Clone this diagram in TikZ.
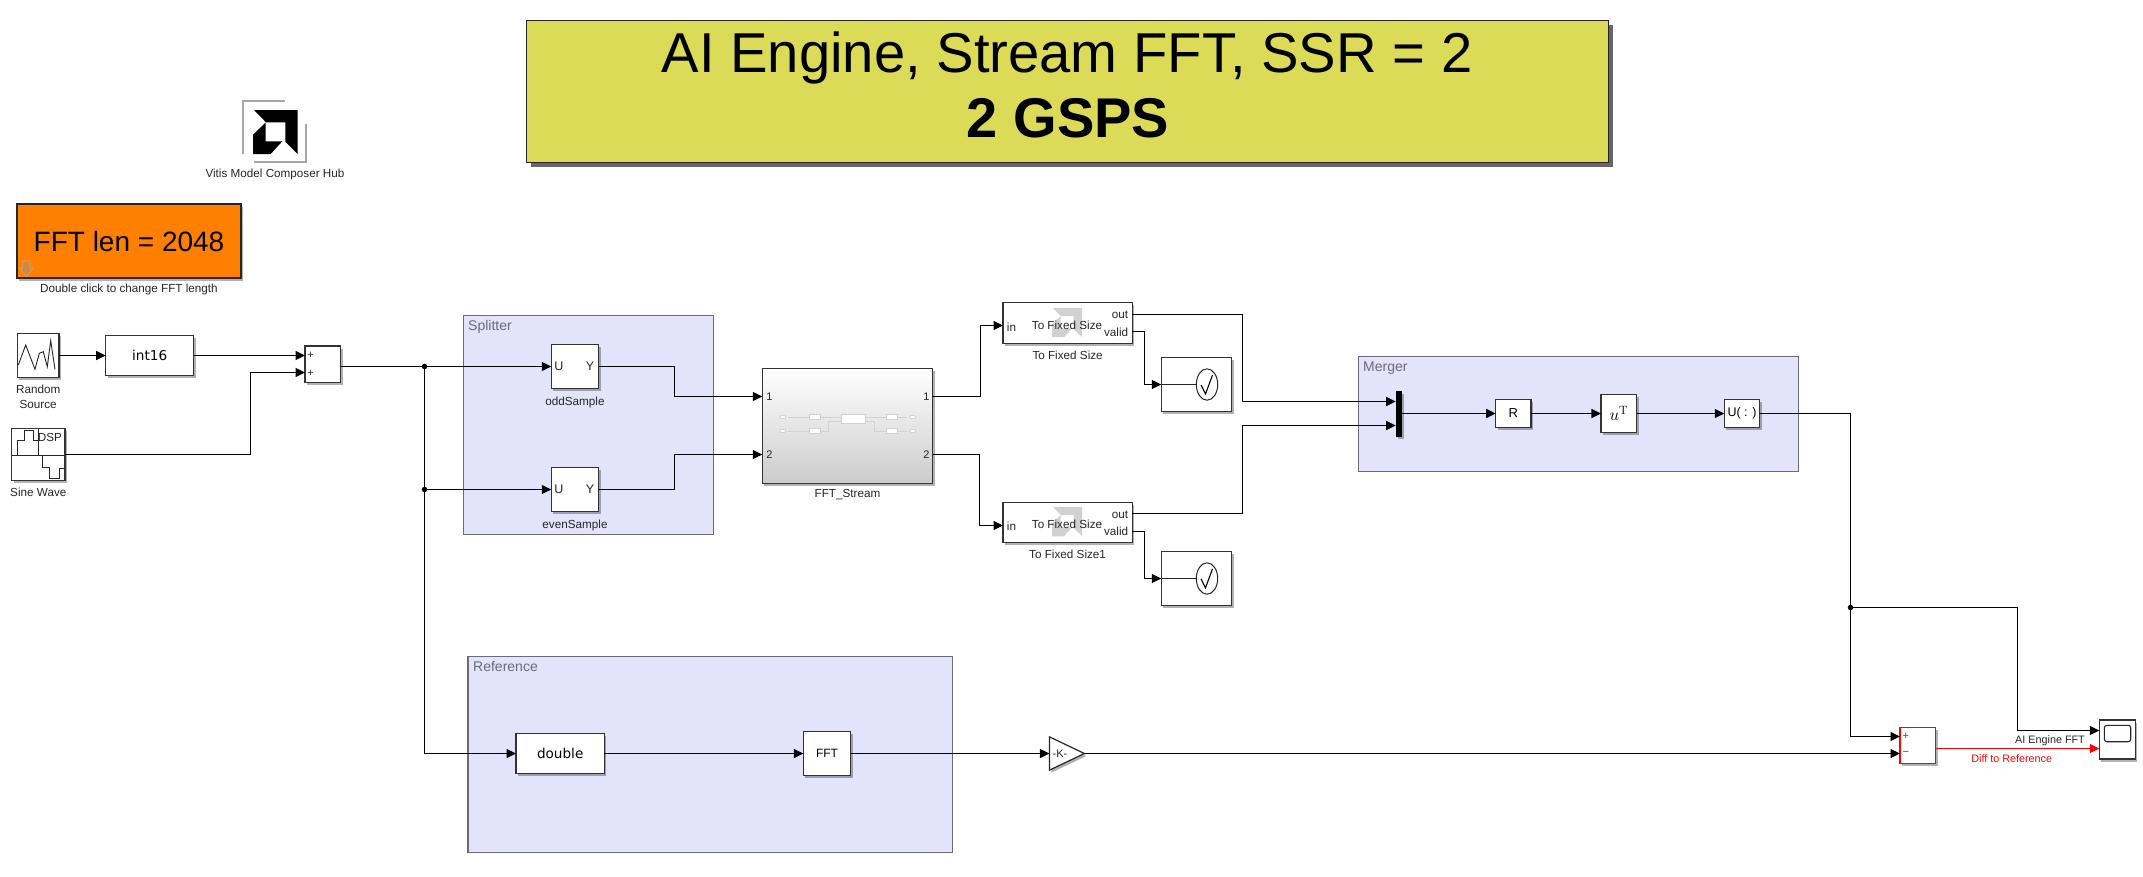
\documentclass[tikz,border=0pt]{standalone}
\usepackage[no-math]{fontspec}
\setmainfont{Liberation Sans}
\newfontfamily\convfont{DejaVu Sans}
\usetikzlibrary{arrows.meta,shadows,shapes.geometric}

\definecolor{titlefill}{HTML}{DBDB58}
\definecolor{lenfill}{HTML}{FF7F00}
\definecolor{areafill}{HTML}{E3E3FC}
\definecolor{areaedge}{HTML}{6A6A7A}
\definecolor{hintfill}{HTML}{C98A45}
\definecolor{hintedge}{HTML}{E09A50}

\tikzset{
  softshadow/.style={drop shadow={shadow xshift=2pt,shadow yshift=-2.5pt,opacity=.3,fill=black}},
  block/.style={draw=black!80,line width=1.2pt,fill=white,inner sep=0pt,outer sep=0pt,softshadow},
  area/.style={draw=areaedge,line width=1.2pt,fill=areafill,inner sep=0pt,outer sep=0pt},
  arealabel/.style={text=areaedge,font=\fontsize{14}{16}\selectfont,anchor=west,inner sep=0pt},
  caption/.style={font=\fontsize{11.7}{14}\selectfont,text=black!85,inner sep=0pt},
  signal/.style={font=\fontsize{10.8}{13}\selectfont,text=black!85,inner sep=0pt},
  port/.style={font=\fontsize{11.7}{14}\selectfont,text=black!85,inner sep=0pt},
  smallport/.style={font=\fontsize{11}{14}\selectfont,text=black!85,inner sep=0pt},
  convtext/.style={font=\convfont\fontsize{13.6}{16}\selectfont,inner sep=0pt},
  junction/.style={circle,fill=black,inner sep=0pt,minimum size=5.5pt},
  wire/.style={line width=1.3pt,->},
  thumb/.style={draw=black!18,line width=.8pt},
  amdmark/.pic={
    \fill (-21.3,-22) -- (22.4,-22) -- (22.4,22) -- (10,9.7) -- (10,-9.7) -- (-9.3,-9.7) -- cycle;
    \fill (-22.3,22) -- (-22.3,2.7) -- (-9.6,-9.5) -- (-9.6,9.3) -- (7,9.3) -- (-4.6,22) -- cycle;
  }
}

\begin{document}
\begin{tikzpicture}[x=1pt,y=-1pt,>={Triangle[length=9.5pt,width=9pt]}]
        \useasboundingbox (0,0) rectangle (2143,876);

        % Areas
        \node[area,minimum width=250pt,minimum height=219.4pt] (splitter) at (588.3,425) {};
        \node[area,minimum width=439.6pt,minimum height=114.6pt] (merger) at (1578.5,414) {};
        \node[area,minimum width=484.7pt,minimum height=195.6pt] (reference) at (710.3,754.5) {};
        \node[arealabel] (splitterlabel) at (468,327) {Splitter};
        \node[arealabel] (mergerlabel) at (1363,368) {Merger};
        \node[arealabel] (referencelabel) at (473,666) {Reference};

        % Banner and mask parts
        \node[draw=black!85,line width=1.2pt,fill=titlefill,inner sep=0pt,minimum width=1082pt,minimum height=142pt,
          drop shadow={shadow xshift=4pt,shadow yshift=-4pt,opacity=.6,fill=black}] (banner) at (1067.5,91.7) {};
        \node[font=\fontsize{56.2}{64}\selectfont,inner sep=0pt] (bannertop) at (1067,57.5) {AI Engine, Stream FFT, SSR = 2};
        \node[font=\fontsize{56}{64}\selectfont\bfseries,inner sep=0pt] (bannerbot) at (1068,118) {2 GSPS};

        \node[draw=black!85,line width=1.2pt,fill=lenfill,inner sep=0pt,minimum width=224pt,minimum height=74pt,softshadow] (fftlen) at (129,241) {};
        \node[font=\fontsize{28}{32}\selectfont,inner sep=0pt] (fftlentext) at (129,241) {FFT len = 2048};
        \filldraw[fill=hintfill,draw=hintedge,line width=1pt] (22.7,261) -- (30,261) -- (30,268) -- (33.3,268) -- (26.3,276.5) -- (19.7,268) -- (22.7,268) -- cycle;
        \node[caption,below of=fftlen,node distance=48pt] (fftlenlabel) {Double click to change FFT length};

        \draw[black!35,line width=1.2pt] (285,101) -- (243,101) -- (243,154);
        \draw[black!35,line width=1.2pt] (306,124) -- (306,162) -- (254,162);
        \pic[black] at (275.3,132) {amdmark};
        \node[caption] (hublabel) at (275,174) {Vitis Model Composer Hub};

        % Sources
        \node[block,minimum width=41.7pt,minimum height=44.3pt] (random) at (38.2,355.5) {};
        \draw[line width=.9pt,black!85] (18.3,365) -- (25.7,345) -- (35,369.3) -- (39.3,353.3) -- (43.3,351.7) -- (47.3,366.7) -- (50.7,340.7) -- (55,369.3);
        \node[caption,align=center,below of=random,node distance=41pt] (randomlabel) {Random\\[1pt]Source};

        \node[block,minimum width=53.3pt,minimum height=51.7pt] (sine) at (38.3,454.5) {};
        \draw[line width=.9pt,black!85] (11.7,455) -- (65,455) (38.3,428.5) -- (38.3,455);
        \draw[line width=.9pt,black!85] (17.3,455) -- (17.3,440.7) -- (24,440.7) -- (24,430.7) -- (33.3,430.7) -- (33.3,440.7) -- (38.3,440.7);
        \draw[line width=.9pt,black!85] (42.7,455) -- (42.7,467.3) -- (49.3,467.3) -- (49.3,478.3) -- (59.3,478.3) -- (59.3,468.3) -- (64,468.3);
        \node[port] (sinedsp) at (50,437) {DSP};
        \node[caption,below of=sine,node distance=37.7pt] (sinelabel) {Sine Wave};

        \node[block,minimum width=88pt,minimum height=39.6pt,convtext] (toint) at (149.7,355.5) {int16};

        \node[block,minimum width=35.7pt,minimum height=36.3pt] (sum) at (322.8,364.2) {};
        \node[smallport] (sumplusa) at (310.7,355.3) {+};
        \node[smallport] (sumplusb) at (310.7,373) {+};
        \coordinate (sumina) at (305,355.5);
        \coordinate (suminb) at (305,372.5);
        \coordinate (sumout) at (340.7,366.5);

        \node[junction] (tapodd) at (424.5,366.5) {};
        \node[junction] (tapeven) at (424.5,489.5) {};

        % Splitter
        \node[block,minimum width=47.4pt,minimum height=44.6pt] (odd) at (575,366.5) {};
        \node[port,font=\fontsize{12.5}{14}\selectfont] (oddu) at (559,366.5) {U};
        \node[port,font=\fontsize{12.5}{14}\selectfont] (oddy) at (590,366.5) {Y};
        \node[caption,below of=odd,node distance=35.5pt] (oddlabel) {oddSample};

        \node[block,minimum width=47.4pt,minimum height=44.6pt] (even) at (575,489.5) {};
        \node[port,font=\fontsize{12.5}{14}\selectfont] (evenu) at (559,489.5) {U};
        \node[port,font=\fontsize{12.5}{14}\selectfont] (eveny) at (590,489.5) {Y};
        \node[caption,below of=even,node distance=35.5pt] (evenlabel) {evenSample};

        % FFT block
        \node[block,minimum width=170.4pt,minimum height=115pt,top color=white,middle color=white!96!black,bottom color=black!20] (stream) at (847.5,425.8) {};
        \draw[thumb] (788,417) -- (841.7,417) (866,417) -- (907,417);
        \draw[thumb] (788,431) -- (828.3,431) -- (828.3,421.3) -- (841.7,421.3);
        \draw[thumb] (866,421.3) -- (874.3,421.3) -- (874.3,431) -- (907,431);
        \filldraw[thumb,fill=white] (809.3,414.8) rectangle (820.7,419.2) (809.3,428.8) rectangle (820.7,433.2);
        \filldraw[thumb,fill=white] (886.3,414.8) rectangle (897.7,419.2) (886.3,428.8) rectangle (897.7,433.2);
        \filldraw[thumb,fill=white] (841.7,414.7) rectangle (865.7,423.3);
        \filldraw[thumb,fill=white,rounded corners=1pt] (780,415.5) rectangle (785.5,418.5) (780,429.5) rectangle (785.5,432.5);
        \filldraw[thumb,fill=white,rounded corners=1pt] (910,415.5) rectangle (915.5,418.5) (910,429.5) rectangle (915.5,432.5);
        \node[smallport] (streamia) at (769.3,396.5) {1};
        \node[smallport] (streamib) at (769.3,455) {2};
        \node[smallport] (streamoa) at (926.3,396.5) {1};
        \node[smallport] (streamob) at (926.3,455) {2};
        \coordinate (streamina) at (762.3,396.5);
        \coordinate (streaminb) at (762.3,454.5);
        \coordinate (streamouta) at (932.7,396.5);
        \coordinate (streamoutb) at (932.7,454.5);
        \node[caption,below of=stream,node distance=69pt] (streamlabel) {FFT\_Stream};

        % To Fixed Size blocks
        \node[block,minimum width=129.3pt,minimum height=40.6pt] (fixeda) at (1067.6,323) {};
        \pic[black!18,scale=.67] at (1067,322.5) {amdmark};
        \node[port] (fixedatext) at (1067,325) {To Fixed Size};
        \node[port,anchor=west] (fixedain) at (1006.7,327) {in};
        \node[port,anchor=east] (fixedaout) at (1128.3,315) {out};
        \node[port,anchor=east] (fixedavalid) at (1128.3,332) {valid};
        \node[caption,below of=fixeda,node distance=32pt] (fixedalabel) {To Fixed Size};
        \coordinate (fixedaport) at (1003,325.5);
        \coordinate (fixedaoutp) at (1132.3,314.5);
        \coordinate (fixedavalidp) at (1132.3,331.5);

        \node[block,minimum width=129.3pt,minimum height=40pt] (fixedb) at (1067.6,522.5) {};
        \pic[black!18,scale=.67] at (1067,521.5) {amdmark};
        \node[port] (fixedbtext) at (1067,524) {To Fixed Size};
        \node[port,anchor=west] (fixedbin) at (1006.7,526) {in};
        \node[port,anchor=east] (fixedbout) at (1128.3,514.3) {out};
        \node[port,anchor=east] (fixedbvalid) at (1128.3,531) {valid};
        \node[caption,below of=fixedb,node distance=31.5pt] (fixedblabel) {To Fixed Size1};
        \coordinate (fixedbport) at (1003,525.5);
        \coordinate (fixedboutp) at (1132.3,513.5);
        \coordinate (fixedbvalidp) at (1132.3,531.5);

        % Assertions
        \node[block,minimum width=70.4pt,minimum height=54pt] (checka) at (1196.5,384.5) {};
        \node[draw=black!85,line width=1pt,ellipse,inner sep=0pt,minimum width=21.4pt,minimum height=31.4pt] (checkaicon) at (1207,384.5) {};
        \draw[line width=1pt,black!85] (checka.west) -- (checkaicon.west);
        \draw[line width=1.1pt,black] (1201,385) -- (1205.5,394) -- (1212.5,375);

        \node[block,minimum width=70.4pt,minimum height=53.7pt] (checkb) at (1196.5,578.5) {};
        \node[draw=black!85,line width=1pt,ellipse,inner sep=0pt,minimum width=21.4pt,minimum height=31.4pt] (checkbicon) at (1207,578.5) {};
        \draw[line width=1pt,black!85] (checkb.west) -- (checkbicon.west);
        \draw[line width=1.1pt,black] (1201,578.8) -- (1205.5,587.8) -- (1212.5,568.8);

        % Merger
        \node[fill=black,inner sep=0pt,outer sep=0pt,minimum width=6.6pt,minimum height=45.7pt,softshadow] (mux) at (1399,414.1) {};
        \coordinate (muxina) at (1395.7,401.5);
        \coordinate (muxinb) at (1395.7,425.5);
        \coordinate (muxout) at (1402.3,413.5);
        \node[block,minimum width=35.3pt,minimum height=28.3pt,font=\fontsize{13}{15}\selectfont] (reshape) at (1513.3,413.5) {R};
        \node[block,minimum width=35.7pt,minimum height=37.7pt,font=\fontsize{17}{20}\selectfont] (transpose) at (1618.8,413.5) {$u^{\mathrm{T}}$};
        \node[block,minimum width=35.4pt,minimum height=28.3pt,font=\fontsize{12.5}{15}\selectfont] (vectorize) at (1742,413.5) {U( : )};

        % Reference
        \node[block,minimum width=88.3pt,minimum height=40pt,convtext] (todouble) at (560.2,753.5) {double};
        \node[block,minimum width=47.3pt,minimum height=44.7pt,font=\fontsize{12}{14}\selectfont] (refft) at (827,753.5) {FFT};
        \node[isosceles triangle,isosceles triangle apex angle=51,draw=black!85,line width=1.2pt,fill=white,inner sep=0pt,outer sep=0pt,minimum height=35pt,softshadow,anchor=lower side] (gain) at (1049.4,753.5) {};
        \node[smallport] (gaintext) at (1060,753.5) {-K-};

        % Diff and scope
        \node[draw=red,line width=1.3pt,fill=white,inner sep=0pt,outer sep=0pt,minimum width=35.7pt,minimum height=36pt,softshadow] (diff) at (1917.8,745.3) {};
        \node[smallport,text=red] (diffplus) at (1905.7,736.3) {+};
        \node[smallport,text=red] (diffminus) at (1905.7,753.7) {−};
        \coordinate (diffina) at (1900,736.5);
        \coordinate (diffinb) at (1900,753.5);
        \coordinate (diffout) at (1935.7,748.5);

        \node[block,minimum width=36pt,minimum height=39pt] (scope) at (2117.3,739.5) {};
        \draw[line width=1.1pt,black!85,rounded corners=2.5pt] (2104.3,725.3) rectangle (2130.7,741.7);
        \coordinate (scopeina) at (2099.3,730.5);
        \coordinate (scopeinb) at (2099.3,748.5);

        \node[junction] (tapmerged) at (1850.5,607.5) {};

        % Connections
        \draw[wire] (random.east) -- (toint.west);
        \draw[wire] (toint.east) -- (sumina);
        \draw[wire] (sine.east) -- (250.5,454.5) |- (suminb);
        \draw[line width=1.3pt] (sumout) -- (tapodd);
        \draw[wire] (tapodd) -- (odd.west);
        \draw[wire] (tapeven) -- (even.west);
        \draw[line width=1.3pt] (tapodd) -- (tapeven);
        \draw[wire] (tapeven) |- (todouble.west);
        \draw[wire] (odd.east) -- (674.5,366.5) |- (streamina);
        \draw[wire] (even.east) -- (674.5,489.5) |- (streaminb);
        \draw[wire] (streamouta) -- (980.5,396.5) |- (fixedaport);
        \draw[wire] (streamoutb) -- (979.5,454.5) |- (fixedbport);
        \draw[wire] (fixedaoutp) -- (1242.5,314.5) |- (muxina);
        \draw[wire] (fixedboutp) -- (1242.5,513.5) |- (muxinb);
        \draw[wire] (fixedavalidp) -- (1144.5,331.5) |- (checka.west);
        \draw[wire] (fixedbvalidp) -- (1144.5,531.5) |- (checkb.west);
        \draw[wire] (muxout) -- (reshape.west);
        \draw[wire] (reshape.east) -- (transpose.west);
        \draw[wire] (transpose.east) -- (vectorize.west);
        \draw[line width=1.3pt] (vectorize.east) -| (tapmerged);
        \draw[wire] (tapmerged) |- (diffina);
        \draw[wire] (tapmerged) -- (2017.5,607.5) |- (scopeina);
        \draw[wire] (todouble.east) -- (refft.west);
        \draw[wire] (refft.east) -- (gain.lower side);
        \draw[wire] (gain.apex) -- (diffinb);
        \draw[wire,red] (diffout) -- (scopeinb);

        % Labels
        \node[signal] (scopelabela) at (2050,740.7) {AI Engine FFT};
        \node[signal,text=red] (scopelabelb) at (2011.7,758.3) {Diff to Reference};
\end{tikzpicture}
\end{document}
